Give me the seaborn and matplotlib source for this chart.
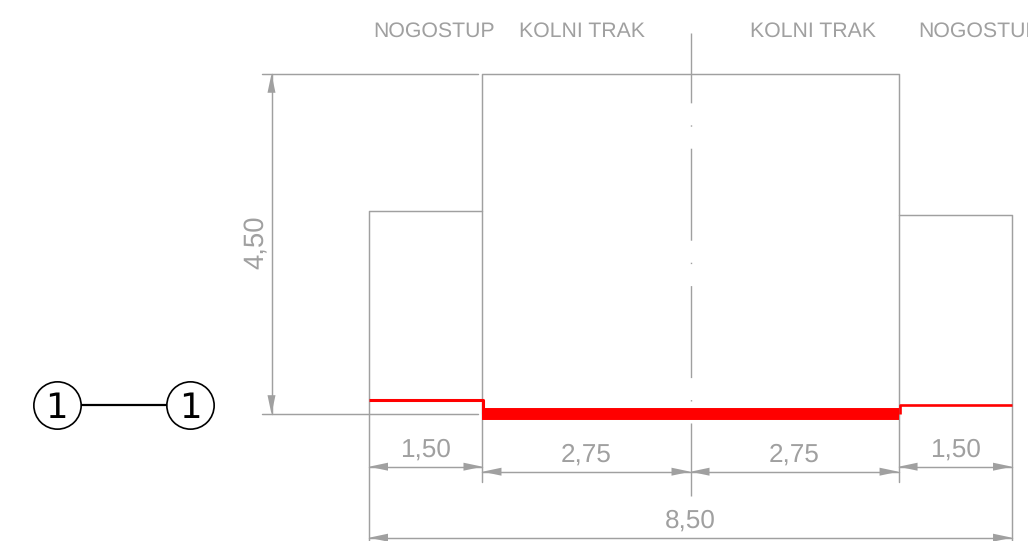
import numpy as np
import pandas as pd
import seaborn as sns
import matplotlib.pyplot as plt

# cross section, all in metres
lane_widths = [1.50, 2.75, 2.75, 1.50]
width_labels = ['1,50', '2,75', '2,75', '1,50']
total_label = '8,50'
clearance = 4.50
clearance_label = '4,50'
walk_left_top = 2.68
walk_right_top = 2.63
curb_left = 0.19
curb_right = 0.12
zone_labels = ['NOGOSTUP', 'KOLNI TRAK', 'KOLNI TRAK', 'NOGOSTUP']
zone_label_x = [0.86, 2.81, 5.87, 8.06]
section_label = '1'

SCALE = 75.65  # px per metre
GREY = '#a0a0a0'
RED = '#ff0000'

sns.set_style('white')
plt.rcParams['font.family'] = ['Liberation Sans', 'DejaVu Sans']
plt.rcParams['text.hinting'] = 'no_hinting'

fig = plt.figure(figsize=(10.28, 5.41), dpi=100)
ax = fig.add_axes([0, 0, 1, 1])
ax.set_xlim(-369 / SCALE, 659 / SCALE)
ax.set_ylim(-126.8 / SCALE, 414.2 / SCALE)
ax.axis('off')


def m(px):
    return px / SCALE


def line(x, y, color=GREY, lw=1.05, **kw):
    df = pd.DataFrame({'x': x, 'y': y})
    return sns.lineplot(data=df, x='x', y='y', ax=ax, sort=False, estimator=None,
                        color=color, linewidth=lw, legend=False, **kw)


def arrow(x, y, dx, dy):
    # filled head with its tip on (x, y), pointing along (dx, dy)
    ln, hw = m(19), m(4)
    bx, by = x - dx * ln, y - dy * ln
    ax.fill([x, bx - dy * hw, bx + dy * hw], [y, by + dx * hw, by - dx * hw],
            color=GREY, lw=0, zorder=3)


def hdim(x0, x1, y, label, text_y):
    line([x0, x1], [y, y])
    arrow(x0, y, -1, 0)
    arrow(x1, y, 1, 0)
    ax.text((x0 + x1) / 2, text_y, label, color=GREY, fontsize=18.8,
            ha='center', va='center')


edges = np.concatenate([[0], np.cumsum(lane_widths)])
x_walk_l, x_road_l, x_mid, x_road_r, x_walk_r = edges

# outline of the clearance profile
line([x_road_l, x_road_l, x_road_r, x_road_r],
     [m(-67.5), clearance, clearance, m(-67.5)])
line([x_walk_l, x_walk_l, x_road_l], [m(-126.5), walk_left_top, walk_left_top])
line([x_road_r, x_walk_r, x_walk_r], [walk_right_top, walk_right_top, m(-126.5)])

# extension lines of the height dimension
line([m(-107), m(109)], [clearance, clearance])
line([m(-107), m(109)], [0, 0])

# axis of the road, dash-dot
line([x_mid, x_mid], [m(-81.5), m(381.5)], lw=1.0)
plt.setp(ax.lines[-1], linestyle=(19 * 0.72, (92 * 0.72, 22 * 0.72, 1.0, 22 * 0.72)),
         dash_capstyle='butt', zorder=2)

# road surface and kerbs
line([x_road_l, x_road_r], [0, 0], color=RED, lw=8.6, zorder=4,
     solid_capstyle='butt')
line([x_walk_l, x_road_l + m(1), x_road_l + m(1)],
     [curb_left, curb_left, 0], color=RED, lw=2.2, zorder=4,
     solid_capstyle='butt')
line([x_road_r + m(1), x_road_r + m(1), x_walk_r],
     [0, curb_right, curb_right], color=RED, lw=1.9, zorder=4,
     solid_capstyle='butt')

# height dimension
xd = m(-97.5)
line([xd, xd], [0, clearance])
arrow(xd, clearance, 0, 1)
arrow(xd, 0, 0, -1)
ax.text(m(-112), m(171.5), clearance_label, color=GREY, fontsize=19.8,
        rotation=90, ha='center', va='center')

# width dimensions
hdim(x_walk_l, x_road_l, m(-52.5), width_labels[0], m(-35.5))
hdim(x_road_l, x_mid, m(-57.5), width_labels[1], m(-41))
hdim(x_mid, x_road_r, m(-57.5), width_labels[2], m(-41))
hdim(x_road_r, x_walk_r, m(-52.5), width_labels[3], m(-35.5))
hdim(x_walk_l, x_walk_r, m(-123.5), total_label, m(-107))

# zone names
for name, zx in zip(zone_labels, zone_label_x):
    ax.text(zx, m(382.5), name, color=GREY, fontsize=15.3, ha='center', va='center',
            clip_on=False)

# section mark
sec_x = [m(56.5 - 369), m(190.2 - 369)]
sec_y = [m(9), m(9)]
line(sec_x, sec_y, color='black', lw=1.6, zorder=5)
sns.scatterplot(x=sec_x, y=sec_y, ax=ax, s=1160, color='white', edgecolor='black',
                linewidth=1.2, zorder=6, legend=False)
for sx in sec_x:
    ax.text(sx, sec_y[0], section_label, color='black', fontsize=25.5, ha='center',
            va='center_baseline', family='DejaVu Sans', zorder=7)

plt.savefig('out.png', dpi=100)
